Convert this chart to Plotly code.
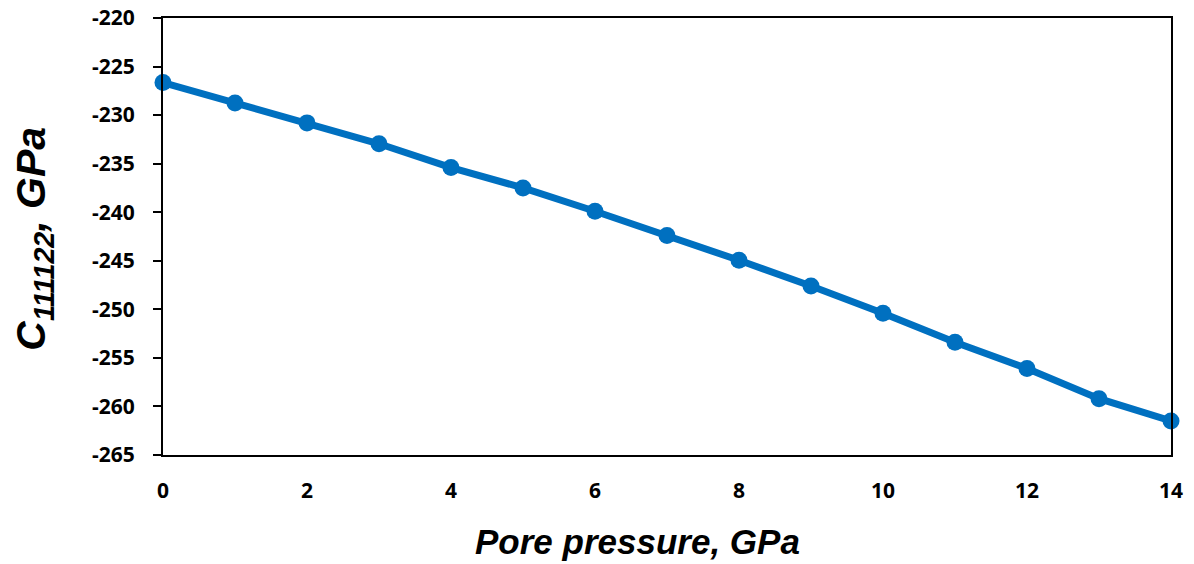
import plotly.graph_objects as go

pore_pressure = [0, 1, 2, 3, 4, 5, 6, 7, 8, 9, 10, 11, 12, 13, 14]
c111122 = [-226.65, -228.75, -230.8, -232.95, -235.4, -237.5, -239.9, -242.4,
           -244.95, -247.6, -250.4, -253.4, -256.1, -259.2, -261.5]
x_ticks = [0, 2, 4, 6, 8, 10, 12, 14]
y_ticks = [-220, -225, -230, -235, -240, -245, -250, -255, -260, -265]

fig = go.Figure()
fig.add_trace(go.Scatter(
    x=pore_pressure, y=c111122, mode="lines+markers",
    line=dict(color="#0070C0", width=7),
    marker=dict(color="#0070C0", size=17),
    showlegend=False, cliponaxis=False,
))

tick_font = dict(family="Open Sans", size=21, color="black", weight="bold")
title_font = dict(family="Liberation Sans", size=35, color="black", weight="bold", style="italic")
ytitle_font = dict(family="Liberation Sans", size=41, color="black", weight="bold", style="italic")

fig.update_layout(
    width=1194, height=564,
    margin=dict(l=155, r=31, t=10, b=117),
    paper_bgcolor="white", plot_bgcolor="white",
    xaxis=dict(
        range=[0, 14], tickvals=x_ticks, ticktext=[str(v) for v in x_ticks],
        showgrid=False, zeroline=False, showline=True, linecolor="black", linewidth=2,
        mirror=True, ticks="", tickfont=tick_font, ticklabelstandoff=16,
        automargin=False, ticklabeloverflow="allow",
    ),
    yaxis=dict(
        range=[-265, -220], tickvals=y_ticks, ticktext=[str(v) for v in y_ticks],
        showgrid=False, zeroline=False, showline=True, linecolor="black", linewidth=2,
        mirror=True, ticks="outside", ticklen=8, tickwidth=2, tickcolor="black",
        tickfont=tick_font, ticklabelstandoff=14, automargin=False,
        ticklabeloverflow="allow",
    ),
    annotations=[
        dict(text="Pore pressure, GPa", xref="paper", yref="paper",
             x=0.471, y=-0.198, xanchor="center", yanchor="middle",
             showarrow=False, font=title_font),
        dict(text="C<sub>111122</sub>, GPa", xref="paper", yref="paper",
             x=-0.128, y=0.495, xanchor="center", yanchor="middle",
             textangle=-90, showarrow=False, font=ytitle_font),
    ],
)
fig.write_html("out.html")
